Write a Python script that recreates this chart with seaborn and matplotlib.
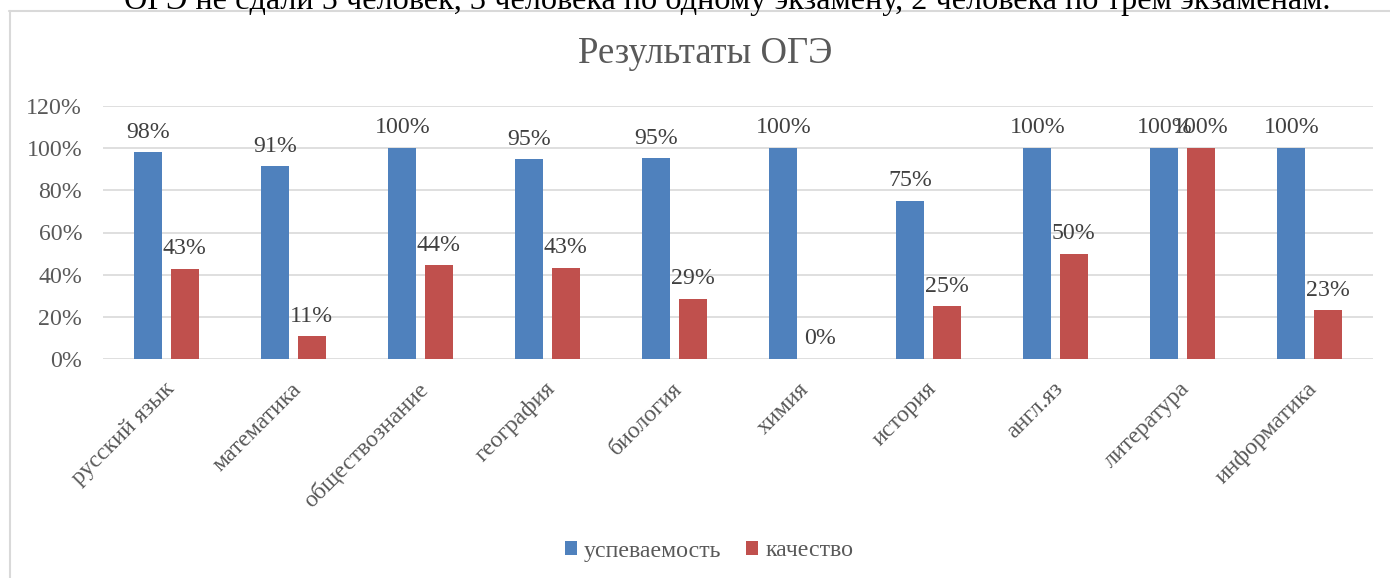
import matplotlib
matplotlib.use("Agg")
import matplotlib.pyplot as plt
import matplotlib.transforms as mtransforms
from matplotlib.patches import Patch
from matplotlib.lines import Line2D
import seaborn as sns
import pandas as pd

subjects = ["русский язык", "математика", "обществознание", "география", "биология",
            "химия", "история", "англ.яз", "литература", "информатика"]
uspevaemost = [0.98, 0.914, 1.0, 0.947, 0.952, 1.0, 0.75, 1.0, 1.0, 1.0]
kachestvo = [0.428, 0.107, 0.444, 0.432, 0.286, 0.0, 0.25, 0.5, 1.0, 0.231]
series_names = ["успеваемость", "качество"]
y_ticks = [0, 0.2, 0.4, 0.6, 0.8, 1.0, 1.2]
title = "Результаты ОГЭ"
top_note = "ОГЭ не сдали 5 человек, 3 человека по одному экзамену, 2 человека по трем экзаменам."

colors = ["#4F81BD", "#C0504D"]

sns.set_theme(style="white")
plt.rcParams["font.family"] = ["Liberation Serif", "DejaVu Serif"]

W, H = 1390, 578
fig = plt.figure(figsize=(W / 100, H / 100), dpi=100)
fig.patch.set_facecolor("white")

def fx(px):
    return px / W

def fy(py):
    return 1 - py / H

def pct(v):
    return f"{int(v * 100 + 0.5)}%"

ax = fig.add_axes([fx(103), fy(359), fx(1373) - fx(103), fy(106) - fy(359)])

df = pd.DataFrame({
    "subject": subjects * 2,
    "value": uspevaemost + kachestvo,
    "series": [series_names[0]] * len(subjects) + [series_names[1]] * len(subjects),
})

sns.barplot(data=df, x="subject", y="value", hue="series", palette=colors,
            width=0.575, gap=0.233, ax=ax, legend=False, linewidth=0,
            saturation=1)

FS = 17.2

ax.set_ylim(0, 1.2)
ax.set_xlim(-0.5, len(subjects) - 0.5)
ax.set_yticks(y_ticks)
ax.set_yticklabels([pct(t) for t in y_ticks])
ax.set_xlabel("")
ax.set_ylabel("")
ax.grid(axis="y", color="#D9D9D9", linewidth=1.2)
ax.grid(axis="x", visible=False)
ax.set_axisbelow(True)
for s in ax.spines.values():
    s.set_visible(False)
ax.tick_params(axis="y", length=0, pad=15, labelsize=FS, labelcolor="#595959")
ax.tick_params(axis="x", length=0, pad=14, labelsize=FS, labelcolor="#595959")

ax.set_xticks(range(len(subjects)))
ax.set_xticklabels(subjects, rotation=45, ha="right", va="top", rotation_mode="anchor")
offset = mtransforms.ScaledTranslation(-3 / 100, 0, fig.dpi_scale_trans)
for lab in ax.get_xticklabels():
    lab.set_transform(lab.get_transform() + offset)

for cont, vals in zip(ax.containers, [uspevaemost, kachestvo]):
    ax.bar_label(cont, labels=[pct(v) for v in vals],
                 padding=7, fontsize=FS, color="#404040")

fig.text(fx(705), fy(63), title, ha="center", va="baseline",
         fontsize=26.5, color="#595959")

fig.text(fx(727), fy(9), top_note, ha="center", va="baseline",
         fontsize=23.2, color="black")

fig.add_artist(Line2D([fx(9), 1.0], [fy(11), fy(11)], color="#D9D9D9", linewidth=1.5,
                      transform=fig.transFigure))
fig.add_artist(Line2D([fx(9.5), fx(9.5)], [fy(11), 0.0], color="#D9D9D9", linewidth=1.5,
                      transform=fig.transFigure))

handles = [Patch(facecolor=c, edgecolor="none") for c in colors]
fig.legend(handles, series_names, loc="center", bbox_to_anchor=(fx(709), fy(551)),
           ncol=2, frameon=False, fontsize=FS, labelcolor="#595959",
           handlelength=0.5, handleheight=0.5, handletextpad=0.3,
           columnspacing=1.05)

fig.savefig("out.png", dpi=100, facecolor="white")
